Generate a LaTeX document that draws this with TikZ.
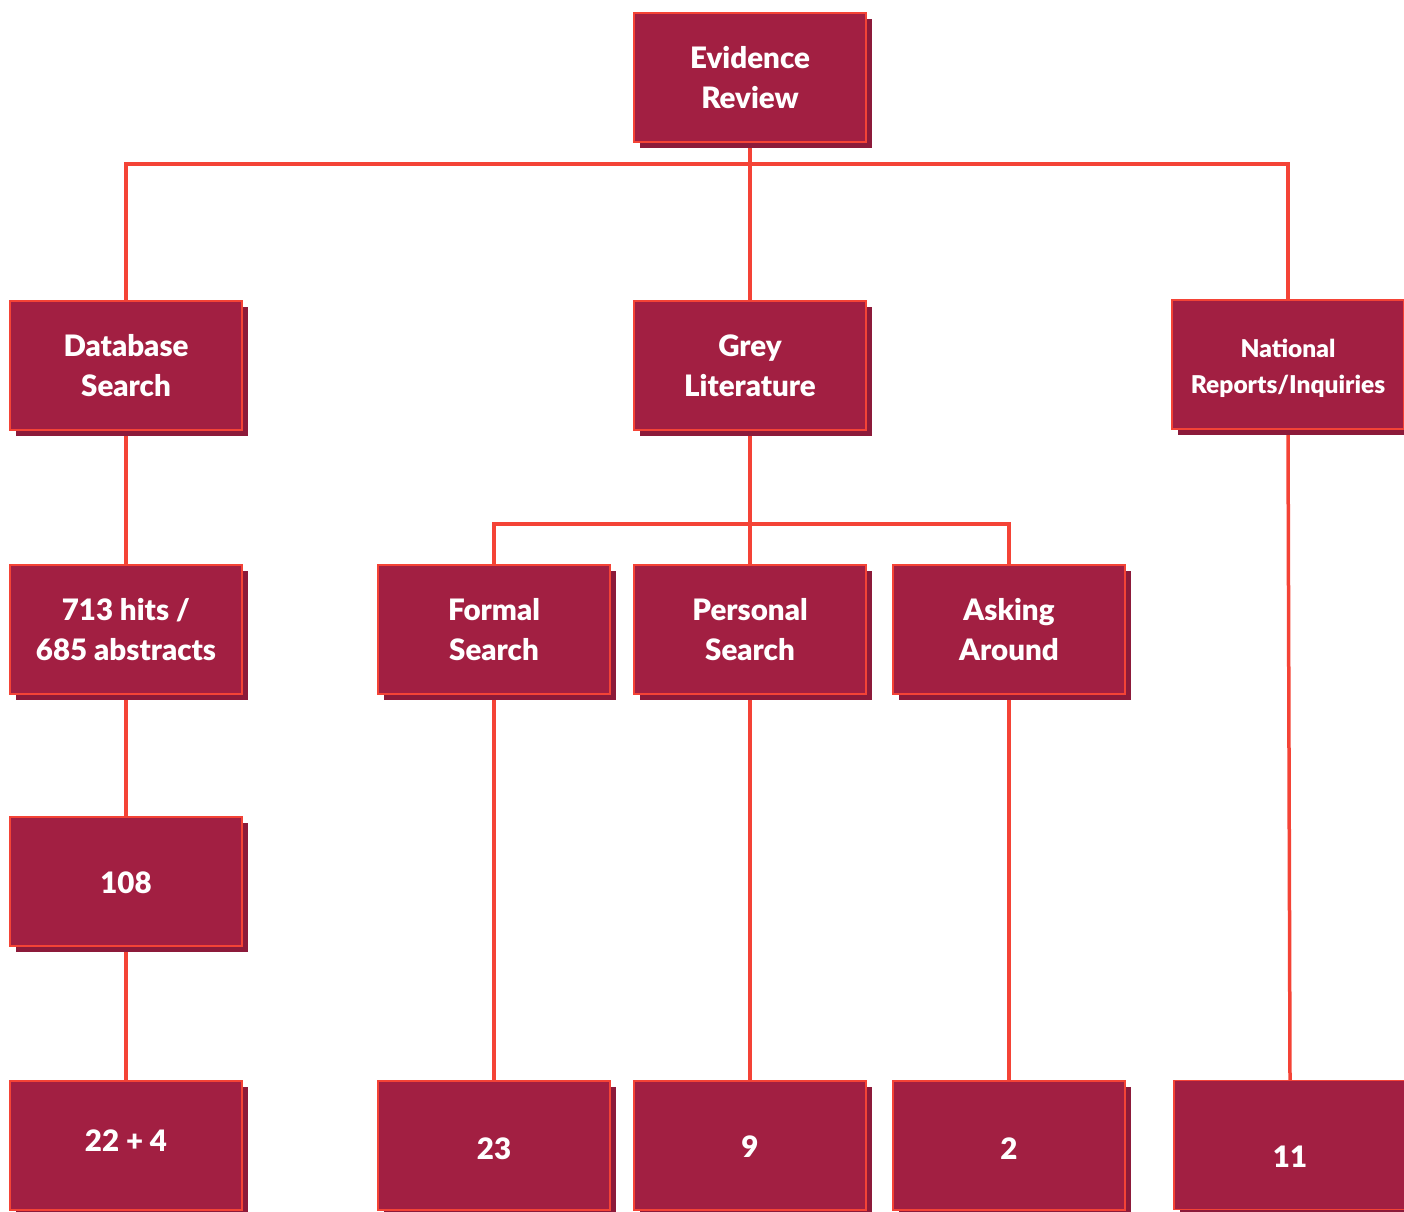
\documentclass[tikz,border=0pt]{standalone}
\usepackage{fontspec}
\setmainfont{Lato}[BoldFont={Lato Black}]
\usetikzlibrary{shadows,backgrounds}
\definecolor{boxfill}{HTML}{A21F42}
\definecolor{boxline}{HTML}{F44336}
\definecolor{shadowcol}{HTML}{8C1A3A}
\tikzset{
  box/.style={rectangle, fill=boxfill, draw=boxline, line width=1.5pt,
    minimum width=232pt, minimum height=129pt, inner sep=0pt, align=center,
    text=white, font=\fontsize{29.5}{40}\selectfont\bfseries,
    general shadow={fill=shadowcol, shadow xshift=6pt, shadow yshift=-6pt}},
  smalltext/.style={text=white, align=center, inner sep=0pt,
    font=\fontsize{24.5}{36}\selectfont\bfseries},
  numbox/.style={box, text height=21pt, text depth=0pt},
  conn/.style={draw=boxline, line width=3.5pt}
}
\begin{document}
\begin{tikzpicture}[x=1pt,y=-1pt]
\useasboundingbox (0,0) rectangle (1404,1211);
\node[box] (ER) at (750,77.5) {Evidence\\Review};
\node[box] (DB) at (126,365.5) {Database\\Search};
\node[box] (GL) at (750,365.5) {Grey\\Literature};
\node[box, label={[smalltext, yshift=-4pt]center:{National\\Reports/Inquiries}}] (NR) at (1288,364.5) {};
\node[box] (HI) at (126,629.5) {713 hits /\\685 abstracts};
\node[box] (FS) at (494,629.5) {Formal\\Search};
\node[box] (PS) at (750,629.5) {Personal\\Search};
\node[box] (AA) at (1009,629.5) {Asking\\Around};
\node[numbox] (N108) at (126,881.5) {\raisebox{-1pt}{108}};
\node[numbox] (B1) at (126,1145.5) {\raisebox{5pt}{22 + 4}};
\node[numbox] (B2) at (494,1145.5) {\raisebox{-3pt}{23}};
\node[numbox] (B3) at (750,1145.5) {\raisebox{-1pt}{9}};
\node[numbox] (B4) at (1009,1145.5) {\raisebox{-3pt}{2}};
\node[numbox] (B5) at (1290,1145) {\raisebox{-12pt}{11}};
\coordinate (j1) at (750,164);
\coordinate (j2) at (750,524);
\begin{scope}[on background layer]
\draw[conn] (DB.north) |- (j1) -| (NR.north);
\draw[conn] (ER.south) -- (GL.north);
\draw[conn] (FS.north) |- (j2) -| (AA.north);
\draw[conn] (GL.south) -- (PS.north);
\draw[conn] (DB.south) -- (HI.north);
\draw[conn] (HI.south) -- (N108.north);
\draw[conn] (N108.south) -- (B1.north);
\draw[conn] (FS.south) -- (B2.north);
\draw[conn] (PS.south) -- (B3.north);
\draw[conn] (AA.south) -- (B4.north);
\draw[conn] (NR.south) -- (B5.north);
\end{scope}
\end{tikzpicture}
\end{document}
